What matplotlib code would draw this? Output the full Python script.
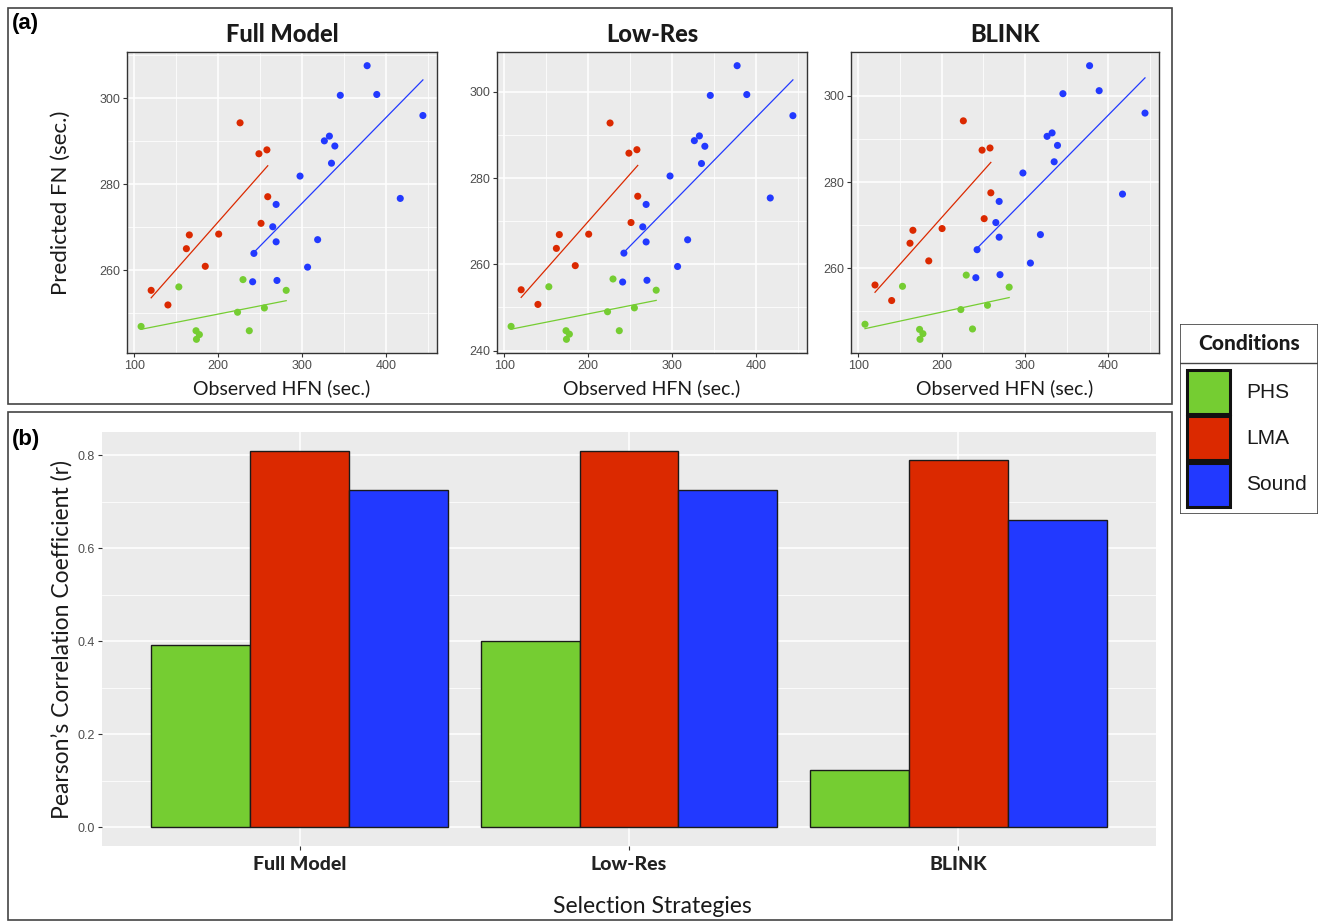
import matplotlib.pyplot as plt
import numpy as np
from matplotlib.patches import Rectangle
from matplotlib.ticker import MultipleLocator

conditions = ["PHS", "LMA", "Sound"]
colors = ["#75CD32", "#DB2900", "#2239FF"]
strategies = ["Full Model", "Low-Res", "BLINK"]

# observed HFN (sec.), same for all three panels
obs_phs = [108, 153, 173.5, 177.5, 174, 223, 229.5, 237, 255, 281]
obs_lma = [120, 140, 162, 165.5, 184.5, 200.5, 226, 248.5, 258, 259, 251]
obs_sound = [242.5, 241, 270, 269, 265, 269, 297.5, 306.5, 318.5, 326.5,
             332.5, 339, 335, 345.5, 377.5, 389, 417, 444]

# predicted FN (sec.) per strategy
pred_full_phs = [246.9, 256.1, 245.9, 245.0, 243.9, 250.2, 257.8, 245.9, 251.2, 255.3]
pred_full_lma = [255.3, 251.9, 265.0, 268.2, 260.9, 268.4, 294.3, 287.1, 288.0, 277.1, 270.9]
pred_full_sound = [263.9, 257.3, 257.6, 275.3, 270.1, 266.6, 281.9, 260.7, 267.1, 290.1,
                   291.2, 288.9, 284.9, 300.7, 307.6, 300.9, 276.7, 296.0]

pred_low_phs = [245.6, 254.8, 244.6, 243.8, 242.6, 249.0, 256.6, 244.6, 249.9, 254.0]
pred_low_lma = [254.1, 250.7, 263.7, 266.9, 259.7, 267.0, 292.8, 285.8, 286.6, 275.8, 269.7]
pred_low_sound = [262.6, 255.9, 256.3, 273.9, 268.7, 265.2, 280.5, 259.5, 265.7, 288.7,
                  289.8, 287.4, 283.4, 299.2, 306.1, 299.4, 275.4, 294.5]

pred_blink_phs = [247.0, 255.8, 245.8, 244.8, 243.5, 250.4, 258.4, 245.9, 251.4, 255.6]
pred_blink_lma = [256.1, 252.5, 265.8, 268.8, 261.7, 269.2, 294.2, 287.4, 287.9, 277.5, 271.5]
pred_blink_sound = [264.3, 257.8, 258.5, 275.5, 270.6, 267.2, 282.1, 261.2, 267.8, 290.6,
                    291.4, 288.5, 284.7, 300.5, 307.0, 301.2, 277.2, 296.0]

# Pearson r per strategy
r_phs = [0.392, 0.401, 0.123]
r_lma = [0.809, 0.810, 0.791]
r_sound = [0.726, 0.726, 0.662]

W, H = 1322, 922
fig = plt.figure(figsize=(W / 100, H / 100), dpi=100)

TITLE_FONT = ["Lato", "DejaVu Sans"]
TICK_FONT = ["Liberation Sans", "DejaVu Sans"]
PANEL_BG = "#EBEBEB"


def px_axes(x0, y0, x1, y1):
    return fig.add_axes([x0 / W, 1 - y1 / H, (x1 - x0) / W, (y1 - y0) / H])


def gg_style(ax):
    ax.set_facecolor(PANEL_BG)
    ax.set_axisbelow(True)
    ax.grid(which="major", color="white", lw=1.1)
    ax.grid(which="minor", color="white", lw=0.55)
    ax.tick_params(which="major", length=3, width=0.8, color="#333333",
                   labelcolor="#4D4D4D", labelsize=9, pad=2)
    ax.tick_params(which="minor", length=0)
    for lab in ax.get_xticklabels() + ax.get_yticklabels():
        lab.set_family(TICK_FONT)


# ---- panel (a): scatter plots
obs = [obs_phs, obs_lma, obs_sound]
panels = [
    ("Full Model", [pred_full_phs, pred_full_lma, pred_full_sound], (127, 437)),
    ("Low-Res", [pred_low_phs, pred_low_lma, pred_low_sound], (497, 807)),
    ("BLINK", [pred_blink_phs, pred_blink_lma, pred_blink_sound], (851, 1159)),
]

for i, (title, preds, (x0, x1)) in enumerate(panels):
    ax = px_axes(x0, 52, x1, 353)
    for xs, ys, c in zip(obs, preds, colors):
        xs = np.array(xs)
        ys = np.array(ys)
        ax.scatter(xs, ys, s=26, color=c, edgecolors="none", zorder=3)
        k, b = np.polyfit(xs, ys, 1)
        xl = np.array([xs.min(), xs.max()])
        ax.plot(xl, k * xl + b, color=c, lw=0.9, zorder=2)
    ax.xaxis.set_major_locator(MultipleLocator(100))
    ax.xaxis.set_minor_locator(MultipleLocator(50))
    ax.yaxis.set_major_locator(MultipleLocator(20))
    ax.yaxis.set_minor_locator(MultipleLocator(10))
    gg_style(ax)
    for s in ax.spines.values():
        s.set_color("#333333")
        s.set_linewidth(1.0)
    ax.set_title(title, fontsize=17, fontweight="black", family=TITLE_FONT,
                 color="#1A1A1A", pad=7)
    ax.set_xlabel("Observed HFN (sec.)", fontsize=14, family=TITLE_FONT,
                  color="#1A1A1A", labelpad=5)
    if i == 0:
        ax.set_ylabel("Predicted FN (sec.)", fontsize=16, family=TITLE_FONT,
                      color="#1A1A1A", labelpad=20)

# ---- panel (b): bar chart
axb = px_axes(102, 432, 1156, 846)
x = np.arange(1, len(strategies) + 1)
bw = 0.3
for j, (vals, c) in enumerate(zip([r_phs, r_lma, r_sound], colors)):
    axb.bar(x + (j - 1) * bw, vals, width=bw, color=c, edgecolor="#1A1A1A",
            linewidth=1.0, zorder=3)
top = max(max(r_phs), max(r_lma), max(r_sound))
axb.set_ylim(-0.05 * top, 1.05 * top)
axb.set_xlim(0.4, 3.6)
axb.set_xticks(x)
axb.set_xticklabels(strategies)
axb.yaxis.set_major_locator(MultipleLocator(0.2))
axb.yaxis.set_minor_locator(MultipleLocator(0.1))
axb.yaxis.set_major_formatter(lambda v, p: f"{v:.1f}")
gg_style(axb)
for s in axb.spines.values():
    s.set_visible(False)
for lab in axb.get_xticklabels():
    lab.set_family(TITLE_FONT)
    lab.set_fontweight("black")
    lab.set_fontsize(14)
    lab.set_color("#222222")
axb.tick_params(axis="x", pad=4)
axb.set_ylabel("Pearson\u2019s Correlation Coefficient (r)", fontsize=16.5,
               family=TITLE_FONT, color="#1A1A1A", labelpad=4)
fig.text(652 / W, 1 - 906 / H, "Selection Strategies", fontsize=16.5,
         family=TITLE_FONT, color="#1A1A1A", ha="center", va="center")

# ---- outer boxes and panel tags
for (bx0, by0, bx1, by1) in [(8, 8, 1172, 404), (8, 412, 1172, 920)]:
    fig.patches.append(Rectangle((bx0 / W, 1 - by1 / H), (bx1 - bx0) / W,
                                 (by1 - by0) / H, transform=fig.transFigure,
                                 fill=False, edgecolor="#444444", lw=1.2))
fig.text(12 / W, 1 - 23 / H, "(a)", fontsize=16, fontweight="bold",
         family=TICK_FONT, va="center", ha="left")
fig.text(12 / W, 1 - 439 / H, "(b)", fontsize=16, fontweight="bold",
         family=TICK_FONT, va="center", ha="left")

# ---- legend
axl = px_axes(1180, 324, 1318, 514)
axl.set_xlim(0, 138)
axl.set_ylim(190, 0)
axl.axis("off")
axl.add_patch(Rectangle((0, 0), 138, 190, fill=False, edgecolor="#444444", lw=1.2))
axl.plot([0, 138], [39, 39], color="#444444", lw=1.0)
axl.text(69, 19.5, "Conditions", fontsize=15, fontweight="black",
         family=TITLE_FONT, ha="center", va="center", color="#1A1A1A")
for k, (name, c) in enumerate(zip(conditions, colors)):
    y0 = 46 + k * 46.5
    axl.add_patch(Rectangle((7, y0), 43, 44, facecolor=c, edgecolor="#111111", lw=2.2))
    axl.text(66, y0 + 22, name, fontsize=15, family=TICK_FONT,
             ha="left", va="center", color="#1A1A1A")

fig.savefig("out.png", dpi=100)
